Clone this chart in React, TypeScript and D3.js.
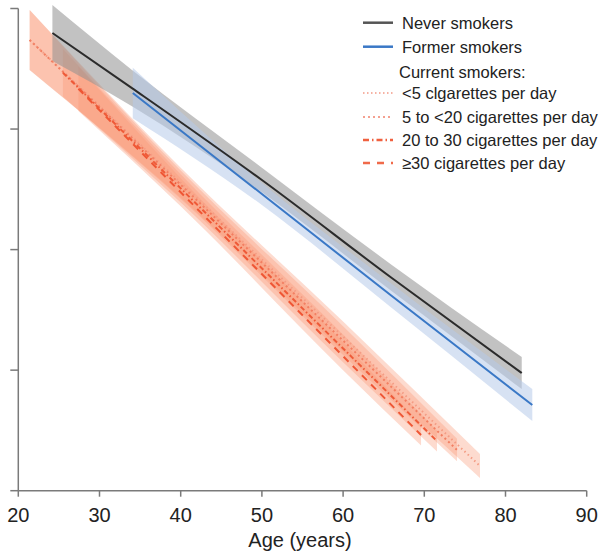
import React from "react";
import * as d3 from "d3";

// ---- Data (y in arbitrary units, axis unlabeled 0..4) ----
const xTicks = [20, 30, 40, 50, 60, 70, 80, 90];
const yTicks = [0, 1, 2, 3, 4];

const neverAges = [24.2, 34, 50, 66, 82];
const neverMean = [3.797, 3.34, 2.577, 1.764, 0.976];
const neverLower = [3.565, 3.19, 2.475, 1.655, 0.843];
const neverUpper = [4.029, 3.49, 2.68, 1.873, 1.109];

const formerAges = [34.1, 50, 66, 83.3];
const formerMean = [3.299, 2.461, 1.615, 0.711];
const formerLower = [3.09, 2.37, 1.515, 0.578];
const formerUpper = [3.508, 2.552, 1.715, 0.844];

const lt5Ages = [21.4, 40, 60, 76.86];
const lt5Mean = [3.739, 2.555, 1.279, 0.205];
const lt5Lower = [3.49, 2.43, 1.155, 0.105];
const lt5Upper = [3.988, 2.68, 1.403, 0.305];

const to20Ages = [21.4, 40, 60, 74.03];
const to20Mean = [3.739, 2.538, 1.245, 0.338];
const to20Lower = [3.49, 2.42, 1.125, 0.245];
const to20Upper = [3.988, 2.656, 1.365, 0.431];

const to30Ages = [25.5, 40, 60, 71.56];
const to30Mean = [3.467, 2.508, 1.18, 0.412];
const to30Lower = [3.27, 2.39, 1.065, 0.325];
const to30Upper = [3.664, 2.626, 1.295, 0.499];

const ge30Ages = [27.4, 40, 60, 69.6];
const ge30Mean = [3.334, 2.476, 1.116, 0.462];
const ge30Lower = [3.15, 2.36, 1.0, 0.375];
const ge30Upper = [3.518, 2.592, 1.232, 0.549];

type Series = {
  name: string;
  ages: number[];
  mean: number[];
  lower: number[];
  upper: number[];
  color: string;
  dash: string | null;
  bandColor: string;
  bandOpacity: number;
  legendColor: string;
};

const currentSeries: Series[] = [
  { name: "<5 clgarettes per day", ages: lt5Ages, mean: lt5Mean, lower: lt5Lower, upper: lt5Upper, color: "#f49c84", dash: "1.5,3", bandColor: "#f89672", bandOpacity: 0.34, legendColor: "#f6b2a3" },
  { name: "5 to <20 cigarettes per day", ages: to20Ages, mean: to20Mean, lower: to20Lower, upper: to20Upper, color: "#f27f62", dash: "2,3", bandColor: "#f89672", bandOpacity: 0.34, legendColor: "#f4a090" },
  { name: "20 to 30 cigarettes per day", ages: to30Ages, mean: to30Mean, lower: to30Lower, upper: to30Upper, color: "#ee5a38", dash: "5,2.5,1.5,2.5", bandColor: "#f89672", bandOpacity: 0.34, legendColor: "#f0603f" },
  { name: "\u226530 cigarettes per day", ages: ge30Ages, mean: ge30Mean, lower: ge30Lower, upper: ge30Upper, color: "#ef5634", dash: "7,6", bandColor: "#f89672", bandOpacity: 0.34, legendColor: "#f06a4a" },
];

const neverSeries: Series = { name: "Never smokers", ages: neverAges, mean: neverMean, lower: neverLower, upper: neverUpper, color: "#2b2b2b", dash: null, bandColor: "#8f8f8f", bandOpacity: 0.55, legendColor: "#555" };
const formerSeries: Series = { name: "Former smokers", ages: formerAges, mean: formerMean, lower: formerLower, upper: formerUpper, color: "#3a78c6", dash: null, bandColor: "#b6cbea", bandOpacity: 0.55, legendColor: "#3a78c6" };

const W = 609;
const H = 554;
const FONT = "'Liberation Sans', Arial, Helvetica, sans-serif";

export default function App() {
  const x = d3.scaleLinear().domain([20, 90]).range([18.3, 586.7]);
  const y = d3.scaleLinear().domain([0, 4]).range([490.7, 8.5]);

  const area = (s: Series) =>
    d3
      .area<number>()
      .x((_, i) => x(s.ages[i]))
      .y0((_, i) => y(s.lower[i]))
      .y1((_, i) => y(s.upper[i]))
      .curve(d3.curveMonotoneX)(s.ages) || "";
  const line = (s: Series) =>
    d3
      .line<number>()
      .x((_, i) => x(s.ages[i]))
      .y((_, i) => y(s.mean[i]))
      .curve(d3.curveMonotoneX)(s.ages) || "";

  const axisColor = "#7a7a7a";
  const legendX1 = 363;
  const legendX2 = 393;
  const legendItems = [
    { label: "Never smokers", y: 22.7, color: "#555", dash: null as string | null, width: 2.5 },
    { label: "Former smokers", y: 46.7, color: "#3a78c6", dash: null, width: 2.5 },
    { label: currentSeries[0].name, y: 93, color: currentSeries[0].legendColor, dash: "1.5,2.5", width: 2 },
    { label: currentSeries[1].name, y: 117, color: currentSeries[1].legendColor, dash: "2,3", width: 2 },
    { label: currentSeries[2].name, y: 140, color: currentSeries[2].legendColor, dash: "6,3,1.5,3", width: 2.5 },
    { label: currentSeries[3].name, y: 163, color: currentSeries[3].legendColor, dash: "7,7", width: 2.5 },
  ];

  return (
    <svg width={W} height={H} style={{ position: "absolute", left: 0, top: 0, background: "#fff" }} fontFamily={FONT}>
      {/* bands */}
      {currentSeries.map((s) => (
        <path key={"b" + s.name} d={area(s)} fill={s.bandColor} opacity={s.bandOpacity} />
      ))}
      <path d={area(neverSeries)} fill={neverSeries.bandColor} opacity={neverSeries.bandOpacity} />
      <path d={area(formerSeries)} fill={formerSeries.bandColor} opacity={formerSeries.bandOpacity} />
      {/* lines */}
      {currentSeries.map((s) => (
        <path key={"l" + s.name} d={line(s)} fill="none" stroke={s.color} strokeWidth={2} strokeDasharray={s.dash || undefined} />
      ))}
      <path d={line(formerSeries)} fill="none" stroke={formerSeries.color} strokeWidth={2} />
      <path d={line(neverSeries)} fill="none" stroke={neverSeries.color} strokeWidth={2} />

      {/* y axis */}
      <line x1={x(20)} x2={x(20)} y1={y(4)} y2={y(0)} stroke={axisColor} strokeWidth={1.5} />
      {yTicks.map((t) => (
        <line key={"yt" + t} x1={x(20) - 8} x2={x(20)} y1={y(t)} y2={y(t)} stroke={axisColor} strokeWidth={1.5} />
      ))}
      {/* x axis */}
      <line x1={x(20)} x2={x(90)} y1={y(0)} y2={y(0)} stroke={axisColor} strokeWidth={1.5} />
      {xTicks.map((t) => (
        <g key={"xt" + t}>
          <line x1={x(t)} x2={x(t)} y1={y(0)} y2={y(0) + 6} stroke={axisColor} strokeWidth={1.5} />
          <text x={x(t)} y={522.3} textAnchor="middle" fontSize={20} fill="#222">
            {t}
          </text>
        </g>
      ))}
      <text x={300} y={547} textAnchor="middle" fontSize={20} fill="#222">
        Age (years)
      </text>

      {/* legend */}
      {legendItems.map((it) => (
        <g key={"lg" + it.label}>
          <line x1={legendX1} x2={legendX2} y1={it.y} y2={it.y} stroke={it.color} strokeWidth={it.width} strokeDasharray={it.dash || undefined} />
          <text x={402} y={it.y} dominantBaseline="central" fontSize={16.5} fill="#222">
            {it.label}
          </text>
        </g>
      ))}
      <text x={399} y={72} dominantBaseline="central" fontSize={16.5} fill="#222">
        Current smokers:
      </text>
    </svg>
  );
}
